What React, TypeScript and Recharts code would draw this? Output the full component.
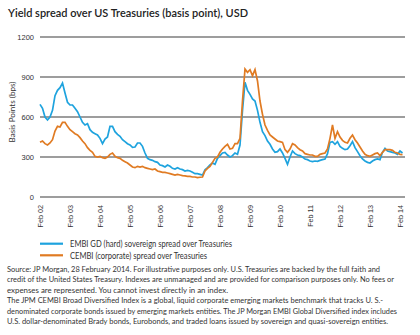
import { LineChart, Line, XAxis, YAxis, CartesianGrid } from 'recharts';

// monthly readings, Feb 2002 .. Mar 2014 (index 0 = Feb 02)
const embiGd = [
  695, 665, 600, 578, 600, 650, 760, 800, 820, 855, 780, 710,
  690, 690, 665, 640, 600, 560, 540, 550, 505, 485, 475, 465,
  440, 400, 435, 450, 530, 530, 490, 470, 455, 430, 415, 400,
  390, 372, 375, 405, 405, 380, 330, 290, 280, 275, 265, 260,
  240, 235, 225, 240, 230, 215, 210, 220, 210, 205, 195, 200,
  195, 185, 175, 175, 170, 165, 205, 220, 240, 255, 245, 290,
  310, 330, 335, 315, 300, 310, 330, 320, 390, 650, 860, 800,
  770, 735, 720, 650, 560, 490, 460, 420, 395, 360, 335, 340,
  360, 330, 290, 245, 300, 345, 325, 315, 310, 300, 285, 280,
  270, 265, 270, 268, 275, 280, 285, 325, 410, 415, 395, 415,
  380, 365, 355, 360, 385, 415, 370, 340, 310, 285, 270, 260,
  255, 270, 280, 285, 280, 335, 365, 345, 340, 335, 330, 320,
  345, 330,
];

const cembi = [
  410, 420, 400, 390, 405, 430, 495, 530, 525, 560, 560, 530,
  505, 490, 475, 465, 445, 420, 400, 370, 350, 335, 305, 300,
  305, 295, 290, 300, 320, 330, 305, 295, 290, 275, 265, 255,
  240, 225, 220, 230, 225, 230, 220, 215, 210, 205, 210, 195,
  190, 185, 185, 180, 175, 170, 165, 170, 165, 160, 158, 155,
  155, 150, 150, 145, 148, 150, 195, 215, 230, 260, 290, 300,
  335, 360, 380, 395, 360, 365, 400, 400, 440, 720, 960, 935,
  955, 910, 955, 870, 720, 620, 540, 500, 465, 450, 435, 420,
  415, 410, 355, 335, 360, 400, 390, 370, 355, 345, 325, 320,
  315, 315, 305, 305, 320, 325, 330, 360, 440, 540, 440, 490,
  450, 425, 410, 405, 440, 465, 430, 405, 375, 345, 320, 310,
  305, 315, 325, 330, 310, 335, 355, 355, 355, 350, 335, 330,
  320, 318,
];

const xTickLabels = [
  'Feb 02', 'Feb 03', 'Feb 04', 'Feb 05', 'Feb 06', 'Feb 07', 'Feb 08',
  'Feb 09', 'Feb 10', 'Feb 11', 'Feb 12', 'Feb 13', 'Feb 14',
];
const yTicks = [0, 300, 600, 900, 1200];

const legendItems = [
  { label: 'EMBI GD (hard) sovereign spread over Treasuries', color: '#1ea3de', width: 162 },
  { label: 'CEMBI (corporate) spread over Treasuries', color: '#e07b23', width: 137 },
];

const sourceLines = [
  { text: 'Source: JP Morgan, 28 February 2014. For illustrative purposes only. U.S. Treasuries are backed by the full faith and', width: 373 },
  { text: 'credit of the United States Treasury. Indexes are unmanaged and are provided for comparison purposes only. No fees or', width: 387 },
  { text: 'expenses are represented. You cannot invest directly in an index.', width: 221 },
  { text: 'The JPM CEMBI Broad Diversified Index is a global, liquid corporate emerging markets benchmark that tracks U. S.-', width: 376 },
  { text: 'denominated corporate bonds issued by emerging markets entities. The JP Morgan EMBI Global Diversified index includes', width: 390 },
  { text: 'U.S. dollar-denominated Brady bonds, Eurobonds, and traded loans issued by sovereign and quasi-sovereign entities.', width: 381 },
];

const data = embiGd.map((v, i) => ({ m: i, embi: v, cembi: cembi[i] }));
const xTicks = xTickLabels.map((_, i) => i * 12);

const TEXT_FONT = 'Lato, "Open Sans", sans-serif';
const AXIS_FONT = '"Liberation Sans", Arial, sans-serif';

const RotatedTick = (props: any) => {
  const { x, y, payload } = props;
  const label = xTickLabels[Math.round(payload.value / 12)];
  return (
    <text
      x={x}
      y={y}
      dy="0.35em"
      transform={`rotate(-90 ${x} ${y})`}
      textAnchor="end"
      fontSize={7.2}
      fontFamily={AXIS_FONT}
      fill="#333"
    >
      {label}
    </text>
  );
};

export default function App() {
  return (
    <div
      style={{
        position: 'absolute',
        left: 0,
        top: 0,
        width: 420,
        height: 335,
        background: '#fff',
        overflow: 'hidden',
      }}
    >
      <div style={{ position: 'absolute', left: 0, top: 0 }}>
        <LineChart
          width={420}
          height={235}
          data={data}
          margin={{ top: 37, right: 15, bottom: 0, left: 0 }}
        >
          <CartesianGrid
            vertical={false}
            stroke="#7d7d7d"
            strokeWidth={1.5}
          />
          <XAxis
            dataKey="m"
            type="number"
            domain={[0, 146]}
            ticks={xTicks}
            interval={0}
            height={38}
            axisLine={false}
            tickLine={false}
            tick={<RotatedTick />}
          />
          <YAxis
            domain={[0, 1200]}
            ticks={yTicks}
            width={40}
            axisLine={false}
            tickLine={false}
            tickSize={4}
            tick={{ fontSize: 7.5, fill: '#333', fontFamily: AXIS_FONT }}
          />
          <Line
            type="linear"
            dataKey="embi"
            stroke="#1ea3de"
            strokeWidth={1.7}
            dot={false}
            isAnimationActive={false}
          />
          <Line
            type="linear"
            dataKey="cembi"
            stroke="#e07b23"
            strokeWidth={1.7}
            dot={false}
            isAnimationActive={false}
          />
        </LineChart>
      </div>
      <svg
        width={420}
        height={335}
        style={{ position: 'absolute', left: 0, top: 0, pointerEvents: 'none' }}
      >
        <text
          x={8}
          y={16.7}
          fontSize={11}
          fontWeight={600}
          fontFamily={TEXT_FONT}
          fill="#222"
          textLength={240}
          lengthAdjust="spacingAndGlyphs"
        >
          Yield spread over US Treasuries (basis point), USD
        </text>
        <text
          x={12.5}
          y={112}
          transform="rotate(-90 12.5 112)"
          dy="0.35em"
          textAnchor="middle"
          fontSize={7.5}
          fontFamily={TEXT_FONT}
          fill="#333"
          textLength={61}
          lengthAdjust="spacingAndGlyphs"
        >
          Basis Points (bps)
        </text>
        {legendItems.map((item, i) => (
          <g key={item.label}>
            <line
              x1={40}
              x2={63}
              y1={243.7 + i * 11.6}
              y2={243.7 + i * 11.6}
              stroke={item.color}
              strokeWidth={2.2}
            />
            <text
              x={70}
              y={247 + i * 11.6}
              fontSize={8.5}
              fontFamily={TEXT_FONT}
              fill="#333"
              textLength={item.width}
              lengthAdjust="spacingAndGlyphs"
            >
              {item.label}
            </text>
          </g>
        ))}
        {sourceLines.map((line, i) => (
          <text
            key={i}
            x={7}
            y={272 + i * 10.4}
            fontSize={7.8}
            fontFamily={TEXT_FONT}
            fill="#333"
            textLength={line.width}
            lengthAdjust="spacingAndGlyphs"
          >
            {line.text}
          </text>
        ))}
      </svg>
    </div>
  );
}
